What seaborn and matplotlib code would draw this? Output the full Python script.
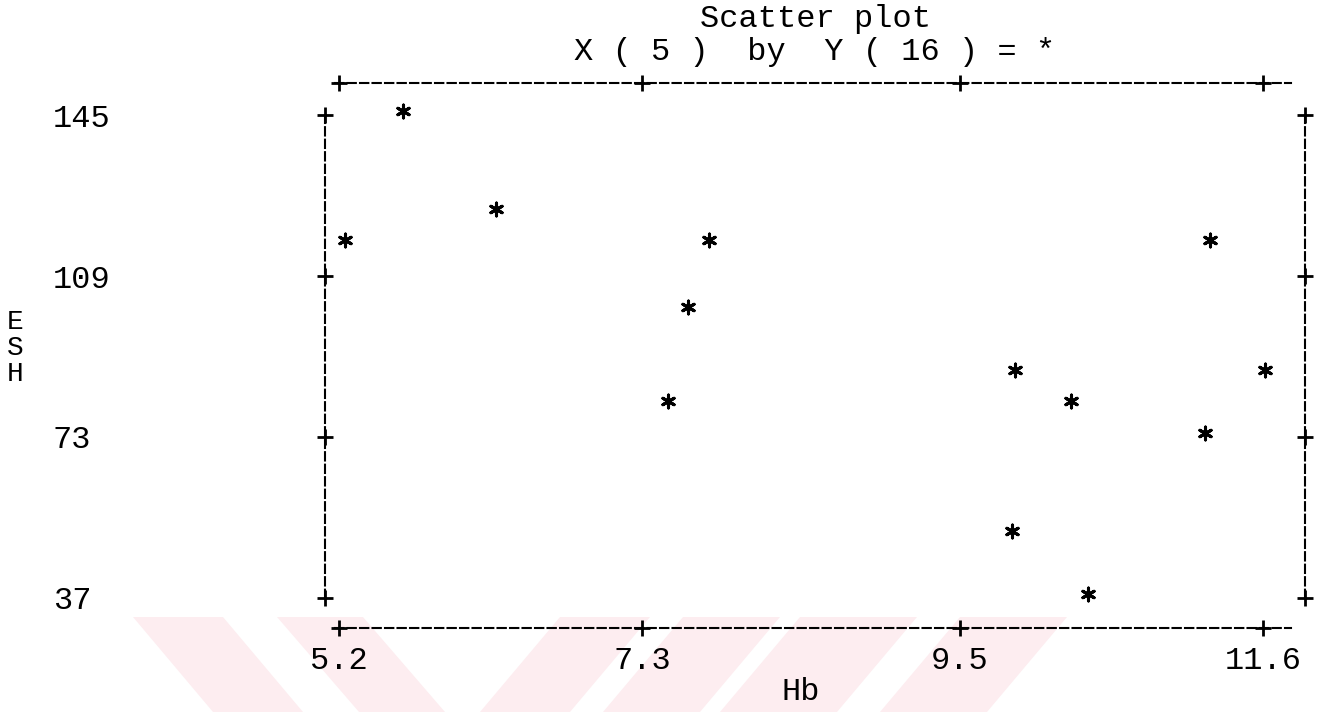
import matplotlib
matplotlib.use("Agg")
import matplotlib.pyplot as plt
import seaborn as sns
from matplotlib.patches import Polygon

# data
hb = [5.64, 6.29, 5.24, 7.76, 7.62, 7.48, 11.23, 9.88, 10.27, 11.61, 11.20, 9.86, 10.39]
esh = [146, 124, 117, 117, 102, 81, 117, 88, 81, 88, 74, 52, 38]

x_ticks = [5.2, 7.3, 9.5, 11.6]
x_labels = ["5.2", "7.3", "9.5", "11.6"]
y_ticks = [37, 73, 109, 145]
y_labels = ["37", "73", "109", "145"]

title = "Scatter plot\nX ( 5 )  by  Y ( 16 ) = *"

sns.set_theme(style="white")
plt.rcParams['font.family'] = ['Liberation Mono', 'DejaVu Sans Mono']
fs = 23

fig = plt.figure(figsize=(13.25, 7.12), dpi=100)
ax = fig.add_axes([0.2453, 0.118, 0.7396, 0.7654])
ax.patch.set_alpha(0)

# faint pink watermark stripes at the bottom (pixel coords)
stripes = [
    [(133, 617), (223, 617), (303, 712), (213, 712)],
    [(277, 617), (363, 617), (445, 712), (359, 712)],
    [(560, 617), (650, 617), (570, 712), (480, 712)],
    [(683, 617), (780, 617), (700, 712), (603, 712)],
    [(800, 617), (917, 617), (837, 712), (720, 712)],
    [(960, 617), (1067, 617), (987, 712), (880, 712)],
]
for pts in stripes:
    fig.add_artist(Polygon([(px / 1325, 1 - py / 712) for px, py in pts],
                           closed=True, transform=fig.transFigure,
                           facecolor="#fdedf0", edgecolor="none", zorder=0))

sns.scatterplot(x=hb, y=esh, marker=(6, 2, 0), s=85, color="black",
                linewidth=2.2, ax=ax, zorder=3)

ax.set_xlim(5.103, 11.89)
ax.set_ylim(30.29, 152.16)

ax.set_xticks(x_ticks)
ax.set_xticklabels(x_labels)
ax.set_yticks(y_ticks)
ax.set_yticklabels(y_labels)

ax.tick_params(axis="x", length=0, labelsize=fs, pad=13, labelcolor="black")
ax.tick_params(axis="y", length=0, labelsize=fs, pad=196, labelcolor="black")
for lbl in ax.get_yticklabels():
    lbl.set_horizontalalignment("left")

# "+" marks where the ticks sit on the dashed frame
plus = dict(marker="+", ls="none", ms=11, mew=2, color="black", clip_on=False, zorder=4)
for side in (0, 1):
    ax.plot(x_ticks, [side] * len(x_ticks), transform=ax.get_xaxis_transform(), **plus)
    ax.plot([side] * len(y_ticks), y_ticks, transform=ax.get_yaxis_transform(), **plus)

for name, sp in ax.spines.items():
    sp.set_visible(True)
    sp.set_color("black")
    sp.set_linewidth(1.5)
    sp.set_linestyle((0, (4, 2)))
    if name in ("top", "bottom"):
        sp.set_bounds(5.17, 11.79)
    else:
        sp.set_bounds(37, 145)

ax.set_xlabel("Hb", fontsize=fs, color="black", va="center")
ax.xaxis.set_label_coords(0.485, -0.117)
ax.set_ylabel("E\nS\nH", fontsize=20, color="black", rotation=0,
              va="center", ha="center", linespacing=1.0)
ax.yaxis.set_label_coords(-0.316, 0.514)

ax.set_title(title, fontsize=fs, color="black", linespacing=1.15, y=1.042, pad=0)

fig.savefig("out.png", dpi=100)
